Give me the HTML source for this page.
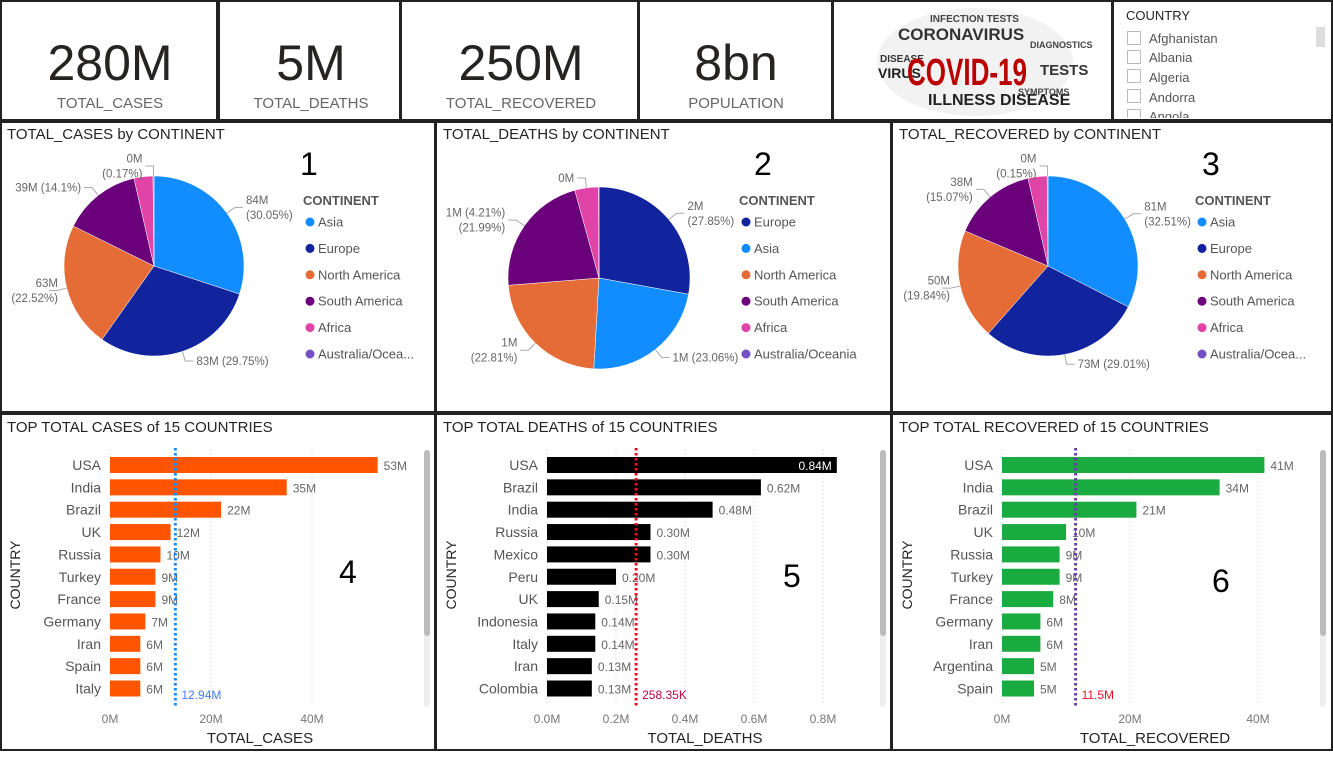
<!DOCTYPE html>
<html><head><meta charset="utf-8"><style>
body{margin:0;background:#fff;}
svg text{font-family:"Liberation Sans",sans-serif;}
</style></head><body>
<svg id="s" width="1333" height="752" xmlns="http://www.w3.org/2000/svg">
<rect x="0" y="0" width="1333" height="752" fill="#fff"/>
<g stroke="#222" stroke-width="2" fill="none">
<rect x="1" y="1" width="216" height="119"/><rect x="219" y="1" width="181" height="119"/><rect x="401" y="1" width="237" height="119"/><rect x="639" y="1" width="193" height="119"/><rect x="833" y="1" width="279" height="119"/><rect x="1113" y="1" width="219" height="119"/>
</g>
<g font-size="50" fill="#252423" text-anchor="middle">
<text x="110" y="80">280M</text>
<text x="311" y="80">5M</text>
<text x="521" y="80">250M</text>
<text x="736" y="80">8bn</text>
</g>
<g font-size="15" fill="#666" text-anchor="middle">
<text x="110" y="108">TOTAL_CASES</text>
<text x="311" y="108">TOTAL_DEATHS</text>
<text x="521" y="108">TOTAL_RECOVERED</text>
<text x="736" y="108">POPULATION</text>
</g>
<g>
<ellipse cx="975" cy="62" rx="98" ry="54" fill="#f2f2f2"/>
<text x="930" y="22" font-size="10" font-weight="bold" fill="#444">INFECTION TESTS</text>
<text x="898" y="40" font-size="17" font-weight="bold" fill="#333">CORONAVIRUS</text>
<text x="880" y="62" font-size="10" font-weight="bold" fill="#333">DISEASE</text>
<text x="878" y="78" font-size="14" font-weight="bold" fill="#222">VIRUS</text>
<text x="1030" y="48" font-size="9" font-weight="bold" fill="#444">DIAGNOSTICS</text>
<text x="1040" y="75" font-size="15" font-weight="bold" fill="#333">TESTS</text>
<text x="907" y="85" font-size="38" font-weight="bold" fill="#b00" textLength="120" lengthAdjust="spacingAndGlyphs">COVID-19</text>
<text x="928" y="105" font-size="16" font-weight="bold" fill="#222">ILLNESS DISEASE</text>
<text x="1018" y="95" font-size="9" font-weight="bold" fill="#444">SYMPTOMS</text>
</g>
<g>
<text x="1126" y="20" font-size="13" fill="#252423">COUNTRY</text>
<rect x="1316" y="27" width="9" height="20" fill="#ddd"/>
<g font-size="13" fill="#555">
<rect x="1127.5" y="31.5" width="13" height="13" fill="#fff" stroke="#bbb"/><text x="1149" y="43">Afghanistan</text>
<rect x="1127.5" y="50.5" width="13" height="13" fill="#fff" stroke="#bbb"/><text x="1149" y="62">Albania</text>
<rect x="1127.5" y="69.5" width="13" height="13" fill="#fff" stroke="#bbb"/><text x="1149" y="82">Algeria</text>
<rect x="1127.5" y="89.5" width="13" height="13" fill="#fff" stroke="#bbb"/><text x="1149" y="102">Andorra</text>
<svg x="1120" y="108" width="200" height="10"><rect x="7.5" y="1.5" width="13" height="13" fill="#fff" stroke="#bbb"/><text x="29" y="13">Angola</text></svg>
</g>
</g>
<g stroke="#222" stroke-width="2" fill="none">
<rect x="1" y="122" width="434" height="290"/><rect x="436" y="122" width="455" height="290"/><rect x="892" y="122" width="440" height="290"/>
<rect x="1" y="414" width="434" height="336"/><rect x="436" y="414" width="455" height="336"/><rect x="892" y="414" width="440" height="336"/>
</g>
<g id="charts"></g>
</svg>
<script>
// ---- pie data ----
const pieCats1 = ["Asia","Europe","North America","South America","Africa","Australia/Oceania"];
const pieVals1 = [30.05,29.75,22.52,14.1,3.41,0.17];
const pieLbl1 = [["84M","(30.05%)"],["83M (29.75%)"],["63M","(22.52%)"],["39M (14.1%)"],null,["0M","(0.17%)"]];
const pieCats2 = ["Europe","Asia","North America","South America","Africa","Australia/Oceania"];
const pieVals2 = [27.85,23.06,22.81,21.99,4.21,0.08];
const pieLbl2 = [["2M","(27.85%)"],["1M (23.06%)"],["1M","(22.81%)"],["1M (4.21%)","(21.99%)"],["0M"],null];
const pieCats3 = ["Asia","Europe","North America","South America","Africa","Australia/Oceania"];
const pieVals3 = [32.51,29.01,19.84,15.07,3.42,0.15];
const pieLbl3 = [["81M","(32.51%)"],["73M (29.01%)"],["50M","(19.84%)"],["38M","(15.07%)"],null,["0M","(0.15%)"]];
const legend1 = ["Asia","Europe","North America","South America","Africa","Australia/Ocea..."];
const legend2 = ["Europe","Asia","North America","South America","Africa","Australia/Oceania"];
const legend3 = ["Asia","Europe","North America","South America","Africa","Australia/Ocea..."];
// ---- bar data ----
const barCats1 = ["USA","India","Brazil","UK","Russia","Turkey","France","Germany","Iran","Spain","Italy"];
const barVals1 = [53,35,22,12,10,9,9,7,6,6,6];
const barLbls1 = ["53M","35M","22M","12M","10M","9M","9M","7M","6M","6M","6M"];
const barTicks1 = [0,20,40]; const barTickLbl1 = ["0M","20M","40M"];
const avg1 = 12.94; const avgLbl1 = "12.94M";
const barCats2 = ["USA","Brazil","India","Russia","Mexico","Peru","UK","Indonesia","Italy","Iran","Colombia"];
const barVals2 = [0.84,0.62,0.48,0.30,0.30,0.20,0.15,0.14,0.14,0.13,0.13];
const barLbls2 = ["0.84M","0.62M","0.48M","0.30M","0.30M","0.20M","0.15M","0.14M","0.14M","0.13M","0.13M"];
const barTicks2 = [0,0.2,0.4,0.6,0.8]; const barTickLbl2 = ["0.0M","0.2M","0.4M","0.6M","0.8M"];
const avg2 = 0.25835; const avgLbl2 = "258.35K";
const barCats3 = ["USA","India","Brazil","UK","Russia","Turkey","France","Germany","Iran","Argentina","Spain"];
const barVals3 = [41,34,21,10,9,9,8,6,6,5,5];
const barLbls3 = ["41M","34M","21M","10M","9M","9M","8M","6M","6M","5M","5M"];
const barTicks3 = [0,20,40]; const barTickLbl3 = ["0M","20M","40M"];
const avg3 = 11.5; const avgLbl3 = "11.5M";

const NS="http://www.w3.org/2000/svg";
const root=document.getElementById('charts');
const colorOf={"Asia":"#118DFF","Europe":"#12239E","North America":"#E66C37","South America":"#6B007B","Africa":"#E044A7","Australia/Oceania":"#744EC2"};
function el(tag,attrs,parent){const e=document.createElementNS(NS,tag);for(const k in attrs)e.setAttribute(k,attrs[k]);(parent||root).appendChild(e);return e;}
function txt(x,y,s,size,fill,anchor,parent){const t=el('text',{x:x,y:y,'font-size':size,fill:fill,'text-anchor':anchor||'start'},parent);t.textContent=s;return t;}

function pie(px,title,num,cx,cy,r,cats,vals,lbls,leg){
  const g=el('g',{});
  
  
  const tt=txt(px+7,139,title,15,"#252423",'start',g);
  
  
  const nn=txt(px+ (num==1?300:num==2?318:310),175,String(num),32,"#000",'start',g);
  
  
  const tot=vals.reduce((a,b)=>a+b,0);
  let a0=0;
  vals.forEach((v,i)=>{
    const a1=a0+v/tot*2*Math.PI;
    const x0=cx+r*Math.sin(a0),y0=cy-r*Math.cos(a0),x1=cx+r*Math.sin(a1),y1=cy-r*Math.cos(a1);
    const p=el('path',{d:`M${cx},${cy}L${x0},${y0}A${r},${r} 0 ${a1-a0>Math.PI?1:0} 1 ${x1},${y1}Z`,fill:colorOf[cats[i]],stroke:'#fff','stroke-width':0.5},g);
    
    
    if(lbls[i]){
      const am=(a0+a1)/2, s=Math.sin(am), c=-Math.cos(am);
      const ex=cx+(r+10)*s, ey=cy+(r+10)*c;
      const right=s>=0;
      const hx=ex+(right?8:-8);
      el('polyline',{points:`${cx+r*s},${cy+r*c} ${ex},${ey} ${hx},${ey}`,fill:'none',stroke:'#aaa','stroke-width':1},g);
      const lines=lbls[i];
      const tx=right?hx+3:Math.max(hx-3,px+58);
      lines.forEach((ln,k)=>{
        const t=txt(tx,ey+4+(k-(lines.length-1)/2)*15,ln,11.5,"#666",right?'start':'end',g);
        
        
      });
    }
    a0=a1;
  });
  const lt=txt(px+303,205,"CONTINENT",13,"#555",'start',g);
  lt.setAttribute('font-weight','bold');
  
  
  leg.forEach((s,i)=>{
    const y=222+i*26.4;
    const col=colorOf[s]||colorOf[s.startsWith('Australia')?'Australia/Oceania':s];
    el('circle',{cx:px+310,cy:y,r:4.5,fill:col},g);
    const t=txt(px+318,y+4.5,s,13,"#555",'start',g);
    
    
  });
}
pie(0,"TOTAL_CASES by CONTINENT",1,154,266,90,pieCats1,pieVals1,pieLbl1,legend1);
pie(436,"TOTAL_DEATHS by CONTINENT",2,599,278,91,pieCats2,pieVals2,pieLbl2,legend2);
pie(892,"TOTAL_RECOVERED by CONTINENT",3,1048,266,90,pieCats3,pieVals3,pieLbl3,legend3);

function bars(px,title,num,numX,numY,x0,pxPer,cats,vals,lbls,ticks,tickLbl,avg,avgLbl,barCol,avgCol,avgTxtCol,axisTitle,axisX,sbX,inside){
  const g=el('g',{});
  
  
  const X=v=>x0+v*pxPer;
  const t0=txt(px+7,432,title,15,"#252423",'start',g);
  
  
  ticks.forEach((tv,i)=>{
    el('line',{x1:X(tv),x2:X(tv),y1:450,y2:705,stroke:'#ccc','stroke-dasharray':'1,3'},g);
    const t=txt(X(tv),723,tickLbl[i],12,"#777",'middle',g);
    
    
  });
  cats.forEach((c,i)=>{
    const yc=465+i*22.35;
    const b=el('rect',{x:x0,y:yc-8,width:X(vals[i])-x0,height:16,fill:barCol},g);
    
    
    const ct=txt(x0-9,yc+5,c,14,"#555",'end',g);
    
    
    let lt;
    if(inside&&i==0) lt=txt(X(vals[i])-5,yc+5,lbls[i],12,"#fff",'end',g);
    else lt=txt(X(vals[i])+6,yc+5,lbls[i],12,"#666",'start',g);
    
    
  });
  const al=el('line',{x1:X(avg),x2:X(avg),y1:448,y2:707,stroke:avgCol,'stroke-width':3,'stroke-dasharray':'2.5,2.5'},g);
  
  
  const at=txt(X(avg)+6,699,avgLbl,12,avgTxtCol,'start',g);
  
  
  const xt=txt(axisX,743,axisTitle,15,"#252423",'middle',g);
  
  
  const yt=txt(0,0,"COUNTRY",14,"#252423",'middle',g);
  yt.setAttribute('transform',`translate(${px+20},575) rotate(-90)`);
  
  
  el('rect',{x:sbX,y:450,width:6,height:257,rx:3,fill:'#eee'},g);
  const sb=el('rect',{x:sbX,y:450,width:6,height:186,rx:3,fill:'#bbb'},g);
  
  
  const nn=txt(numX,numY,String(num),32,"#000",'start',g);
  
  
}
bars(0,"TOP TOTAL CASES of 15 COUNTRIES",4,339,583,110,5.05,barCats1,barVals1,barLbls1,barTicks1,barTickLbl1,avg1,avgLbl1,"#FF5500","#118DFF","#4a7bff","TOTAL_CASES",260,424,false);
bars(436,"TOP TOTAL DEATHS of 15 COUNTRIES",5,783,587,547,345,barCats2,barVals2,barLbls2,barTicks2,barTickLbl2,avg2,avgLbl2,"#000","#E81123","#c00040","TOTAL_DEATHS",705,880,true);
bars(892,"TOP TOTAL RECOVERED of 15 COUNTRIES",6,1212,592,1002,6.4,barCats3,barVals3,barLbls3,barTicks3,barTickLbl3,avg3,avgLbl3,"#1AAB40","#6B3FA0","#E81123","TOTAL_RECOVERED",1155,1320,false);
</script>
</body></html>
